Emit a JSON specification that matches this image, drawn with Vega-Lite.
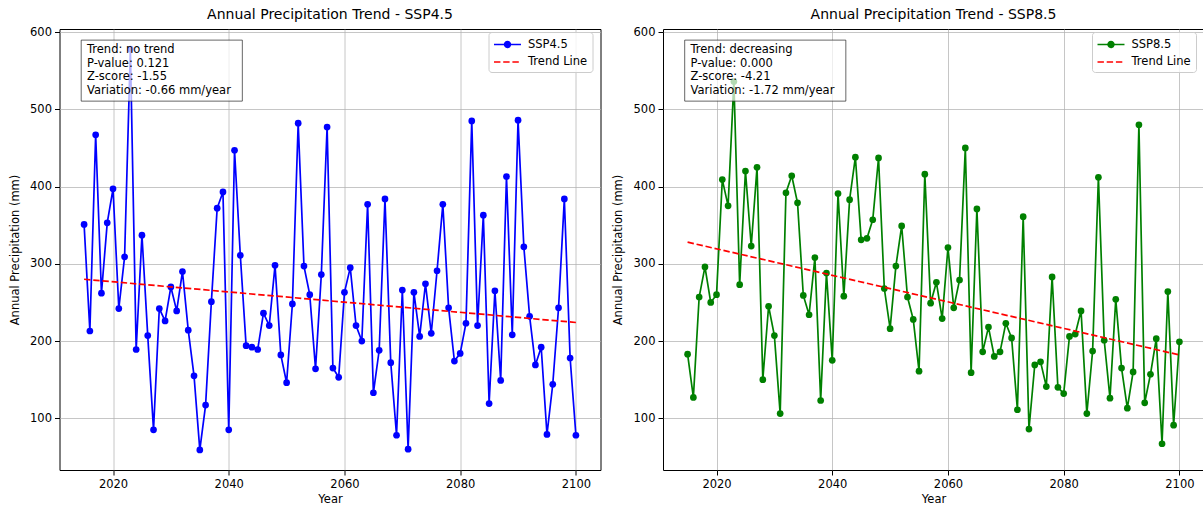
{
  "$schema": "https://vega.github.io/schema/vega-lite/v6.json",
  "background": "white",
  "padding": {"left": 8.5, "top": 7, "right": 0, "bottom": 0},
  "spacing": 10.5,
  "config": {
    "font": "DejaVu Sans",
    "view": {"stroke": "black", "strokeWidth": 1},
    "axis": {
      "labelFont": "DejaVu Sans", "labelFontSize": 11.5, "labelColor": "black",
      "titleFont": "DejaVu Sans", "titleFontSize": 11.5, "titleFontWeight": "normal", "titleColor": "black",
      "tickColor": "black", "tickSize": 5, "tickWidth": 1, "labelPadding": 3,
      "domain": false, "gridColor": "#b0b0b0", "gridOpacity": 0.8, "gridWidth": 0.9
    },
    "title": {"font": "DejaVu Sans", "fontSize": 14, "fontWeight": "normal", "color": "black", "offset": 4},
    "legend": {
      "orient": "none", "legendX": 429, "legendY": 3,
      "fillColor": "rgba(255,255,255,0.8)", "strokeColor": "#cccccc", "cornerRadius": 3,
      "padding": 4.5, "symbolSize": 182, "symbolStrokeWidth": 1.7,
      "labelFont": "DejaVu Sans", "labelFontSize": 11.5, "labelColor": "black",
      "labelOffset": 12.5, "rowPadding": 2.5, "symbolOffset": 6.5
    }
  },
  "datasets": {
    "ssp45": [
      {"year":2015,"precip":351,"series":"SSP4.5"},{"year":2016,"precip":213,"series":"SSP4.5"},{"year":2017,"precip":467,"series":"SSP4.5"},{"year":2018,"precip":262,"series":"SSP4.5"},{"year":2019,"precip":353,"series":"SSP4.5"},
      {"year":2020,"precip":397,"series":"SSP4.5"},{"year":2021,"precip":242,"series":"SSP4.5"},{"year":2022,"precip":309,"series":"SSP4.5"},{"year":2023,"precip":578,"series":"SSP4.5"},{"year":2024,"precip":189,"series":"SSP4.5"},
      {"year":2025,"precip":337,"series":"SSP4.5"},{"year":2026,"precip":207,"series":"SSP4.5"},{"year":2027,"precip":85,"series":"SSP4.5"},{"year":2028,"precip":242,"series":"SSP4.5"},{"year":2029,"precip":226,"series":"SSP4.5"},
      {"year":2030,"precip":270,"series":"SSP4.5"},{"year":2031,"precip":239,"series":"SSP4.5"},{"year":2032,"precip":290,"series":"SSP4.5"},{"year":2033,"precip":214,"series":"SSP4.5"},{"year":2034,"precip":155,"series":"SSP4.5"},
      {"year":2035,"precip":59,"series":"SSP4.5"},{"year":2036,"precip":117,"series":"SSP4.5"},{"year":2037,"precip":251,"series":"SSP4.5"},{"year":2038,"precip":372,"series":"SSP4.5"},{"year":2039,"precip":393,"series":"SSP4.5"},
      {"year":2040,"precip":85,"series":"SSP4.5"},{"year":2041,"precip":447,"series":"SSP4.5"},{"year":2042,"precip":311,"series":"SSP4.5"},{"year":2043,"precip":194,"series":"SSP4.5"},{"year":2044,"precip":192,"series":"SSP4.5"},
      {"year":2045,"precip":189,"series":"SSP4.5"},{"year":2046,"precip":236,"series":"SSP4.5"},{"year":2047,"precip":220,"series":"SSP4.5"},{"year":2048,"precip":298,"series":"SSP4.5"},{"year":2049,"precip":182,"series":"SSP4.5"},
      {"year":2050,"precip":146,"series":"SSP4.5"},{"year":2051,"precip":248,"series":"SSP4.5"},{"year":2052,"precip":482,"series":"SSP4.5"},{"year":2053,"precip":297,"series":"SSP4.5"},{"year":2054,"precip":260,"series":"SSP4.5"},
      {"year":2055,"precip":164,"series":"SSP4.5"},{"year":2056,"precip":286,"series":"SSP4.5"},{"year":2057,"precip":477,"series":"SSP4.5"},{"year":2058,"precip":165,"series":"SSP4.5"},{"year":2059,"precip":153,"series":"SSP4.5"},
      {"year":2060,"precip":263,"series":"SSP4.5"},{"year":2061,"precip":295,"series":"SSP4.5"},{"year":2062,"precip":220,"series":"SSP4.5"},{"year":2063,"precip":200,"series":"SSP4.5"},{"year":2064,"precip":377,"series":"SSP4.5"},
      {"year":2065,"precip":133,"series":"SSP4.5"},{"year":2066,"precip":188,"series":"SSP4.5"},{"year":2067,"precip":384,"series":"SSP4.5"},{"year":2068,"precip":172,"series":"SSP4.5"},{"year":2069,"precip":78,"series":"SSP4.5"},
      {"year":2070,"precip":266,"series":"SSP4.5"},{"year":2071,"precip":60,"series":"SSP4.5"},{"year":2072,"precip":263,"series":"SSP4.5"},{"year":2073,"precip":206,"series":"SSP4.5"},{"year":2074,"precip":274,"series":"SSP4.5"},
      {"year":2075,"precip":210,"series":"SSP4.5"},{"year":2076,"precip":291,"series":"SSP4.5"},{"year":2077,"precip":377,"series":"SSP4.5"},{"year":2078,"precip":243,"series":"SSP4.5"},{"year":2079,"precip":174,"series":"SSP4.5"},
      {"year":2080,"precip":184,"series":"SSP4.5"},{"year":2081,"precip":223,"series":"SSP4.5"},{"year":2082,"precip":485,"series":"SSP4.5"},{"year":2083,"precip":220,"series":"SSP4.5"},{"year":2084,"precip":363,"series":"SSP4.5"},
      {"year":2085,"precip":119,"series":"SSP4.5"},{"year":2086,"precip":265,"series":"SSP4.5"},{"year":2087,"precip":149,"series":"SSP4.5"},{"year":2088,"precip":413,"series":"SSP4.5"},{"year":2089,"precip":208,"series":"SSP4.5"},
      {"year":2090,"precip":486,"series":"SSP4.5"},{"year":2091,"precip":322,"series":"SSP4.5"},{"year":2092,"precip":232,"series":"SSP4.5"},{"year":2093,"precip":169,"series":"SSP4.5"},{"year":2094,"precip":192,"series":"SSP4.5"},
      {"year":2095,"precip":79,"series":"SSP4.5"},{"year":2096,"precip":144,"series":"SSP4.5"},{"year":2097,"precip":243,"series":"SSP4.5"},{"year":2098,"precip":384,"series":"SSP4.5"},{"year":2099,"precip":178,"series":"SSP4.5"},
      {"year":2100,"precip":78,"series":"SSP4.5"}
    ],
    "ssp85": [
      {"year":2015,"precip":183,"series":"SSP8.5"},{"year":2016,"precip":127,"series":"SSP8.5"},{"year":2017,"precip":257,"series":"SSP8.5"},{"year":2018,"precip":296,"series":"SSP8.5"},{"year":2019,"precip":250,"series":"SSP8.5"},
      {"year":2020,"precip":260,"series":"SSP8.5"},{"year":2021,"precip":409,"series":"SSP8.5"},{"year":2022,"precip":375,"series":"SSP8.5"},{"year":2023,"precip":536,"series":"SSP8.5"},{"year":2024,"precip":273,"series":"SSP8.5"},
      {"year":2025,"precip":420,"series":"SSP8.5"},{"year":2026,"precip":323,"series":"SSP8.5"},{"year":2027,"precip":425,"series":"SSP8.5"},{"year":2028,"precip":150,"series":"SSP8.5"},{"year":2029,"precip":245,"series":"SSP8.5"},
      {"year":2030,"precip":207,"series":"SSP8.5"},{"year":2031,"precip":106,"series":"SSP8.5"},{"year":2032,"precip":392,"series":"SSP8.5"},{"year":2033,"precip":414,"series":"SSP8.5"},{"year":2034,"precip":379,"series":"SSP8.5"},
      {"year":2035,"precip":259,"series":"SSP8.5"},{"year":2036,"precip":234,"series":"SSP8.5"},{"year":2037,"precip":308,"series":"SSP8.5"},{"year":2038,"precip":123,"series":"SSP8.5"},{"year":2039,"precip":288,"series":"SSP8.5"},
      {"year":2040,"precip":175,"series":"SSP8.5"},{"year":2041,"precip":391,"series":"SSP8.5"},{"year":2042,"precip":258,"series":"SSP8.5"},{"year":2043,"precip":383,"series":"SSP8.5"},{"year":2044,"precip":438,"series":"SSP8.5"},
      {"year":2045,"precip":331,"series":"SSP8.5"},{"year":2046,"precip":333,"series":"SSP8.5"},{"year":2047,"precip":357,"series":"SSP8.5"},{"year":2048,"precip":437,"series":"SSP8.5"},{"year":2049,"precip":268,"series":"SSP8.5"},
      {"year":2050,"precip":216,"series":"SSP8.5"},{"year":2051,"precip":297,"series":"SSP8.5"},{"year":2052,"precip":349,"series":"SSP8.5"},{"year":2053,"precip":257,"series":"SSP8.5"},{"year":2054,"precip":228,"series":"SSP8.5"},
      {"year":2055,"precip":161,"series":"SSP8.5"},{"year":2056,"precip":416,"series":"SSP8.5"},{"year":2057,"precip":249,"series":"SSP8.5"},{"year":2058,"precip":276,"series":"SSP8.5"},{"year":2059,"precip":229,"series":"SSP8.5"},
      {"year":2060,"precip":321,"series":"SSP8.5"},{"year":2061,"precip":243,"series":"SSP8.5"},{"year":2062,"precip":279,"series":"SSP8.5"},{"year":2063,"precip":450,"series":"SSP8.5"},{"year":2064,"precip":159,"series":"SSP8.5"},
      {"year":2065,"precip":371,"series":"SSP8.5"},{"year":2066,"precip":186,"series":"SSP8.5"},{"year":2067,"precip":218,"series":"SSP8.5"},{"year":2068,"precip":180,"series":"SSP8.5"},{"year":2069,"precip":186,"series":"SSP8.5"},
      {"year":2070,"precip":223,"series":"SSP8.5"},{"year":2071,"precip":204,"series":"SSP8.5"},{"year":2072,"precip":111,"series":"SSP8.5"},{"year":2073,"precip":361,"series":"SSP8.5"},{"year":2074,"precip":86,"series":"SSP8.5"},
      {"year":2075,"precip":169,"series":"SSP8.5"},{"year":2076,"precip":173,"series":"SSP8.5"},{"year":2077,"precip":141,"series":"SSP8.5"},{"year":2078,"precip":283,"series":"SSP8.5"},{"year":2079,"precip":140,"series":"SSP8.5"},
      {"year":2080,"precip":132,"series":"SSP8.5"},{"year":2081,"precip":206,"series":"SSP8.5"},{"year":2082,"precip":209,"series":"SSP8.5"},{"year":2083,"precip":239,"series":"SSP8.5"},{"year":2084,"precip":106,"series":"SSP8.5"},
      {"year":2085,"precip":187,"series":"SSP8.5"},{"year":2086,"precip":412,"series":"SSP8.5"},{"year":2087,"precip":201,"series":"SSP8.5"},{"year":2088,"precip":126,"series":"SSP8.5"},{"year":2089,"precip":254,"series":"SSP8.5"},
      {"year":2090,"precip":165,"series":"SSP8.5"},{"year":2091,"precip":113,"series":"SSP8.5"},{"year":2092,"precip":160,"series":"SSP8.5"},{"year":2093,"precip":480,"series":"SSP8.5"},{"year":2094,"precip":120,"series":"SSP8.5"},
      {"year":2095,"precip":157,"series":"SSP8.5"},{"year":2096,"precip":203,"series":"SSP8.5"},{"year":2097,"precip":67,"series":"SSP8.5"},{"year":2098,"precip":264,"series":"SSP8.5"},{"year":2099,"precip":91,"series":"SSP8.5"},
      {"year":2100,"precip":199,"series":"SSP8.5"}
    ],
    "trend45": [
      {"year":2015,"precip":280,"series":"Trend Line"},{"year":2100,"precip":224,"series":"Trend Line"}
    ],
    "trend85": [
      {"year":2015,"precip":328,"series":"Trend Line"},{"year":2100,"precip":182,"series":"Trend Line"}
    ],
    "stats45": [
      {"label":"Trend: no trend\nP-value: 0.121\nZ-score: -1.55\nVariation: -0.66 mm/year"}
    ],
    "stats85": [
      {"label":"Trend: decreasing\nP-value: 0.000\nZ-score: -4.21\nVariation: -1.72 mm/year"}
    ]
  },
  "resolve": {"scale": {"color": "independent"}, "legend": {"color": "independent"}},
  "hconcat": [
    {
      "width": 541, "height": 441,
      "title": "Annual Precipitation Trend - SSP4.5",
      "layer": [
        {"data": {"name": "ssp45"}, "mark": {"type": "line", "strokeWidth": 1.7},
         "encoding": {
           "x": {"field": "year", "type": "quantitative", "scale": {"domain": [2010.75, 2104.25], "nice": false, "zero": false},
                 "axis": {"values": [2020, 2040, 2060, 2080, 2100], "format": "d", "title": "Year", "titlePadding": 4}},
           "y": {"field": "precip", "type": "quantitative", "scale": {"domain": [33, 604], "nice": false, "zero": false},
                 "axis": {"values": [100, 200, 300, 400, 500, 600], "title": "Annual Precipitation (mm)", "titlePadding": 9.25}},
           "color": {"field": "series", "type": "nominal", "scale": {"domain": ["SSP4.5", "Trend Line"], "range": ["#0000ff", "#ff0000"]},
           "legend": {"title": null, "encode": {"symbols": {"update": {
             "shape": {"signal": "datum.value === 'Trend Line' ? 'M-2,0H2' : 'M-2,0H2M0.42,0A0.42,0.42,0,1,1,-0.42,0A0.42,0.42,0,1,1,0.42,0Z'"},
             "fill": {"signal": "datum.value === 'Trend Line' ? 'transparent' : '#0000ff'"},
             "strokeDash": {"signal": "datum.value === 'Trend Line' ? [6.4, 2.8] : [1, 0]"},
             "strokeWidth": {"value": 1.7}
           }}}}}}},
        {"data": {"name": "ssp45"}, "mark": {"type": "point", "filled": true, "size": 45, "color": "#0000ff", "opacity": 1},
         "encoding": {"x": {"field": "year", "type": "quantitative"}, "y": {"field": "precip", "type": "quantitative"}}},
        {"data": {"name": "trend45"}, "mark": {"type": "line", "strokeWidth": 1.7, "strokeDash": [6.4, 2.8]},
         "encoding": {"x": {"field": "year", "type": "quantitative"}, "y": {"field": "precip", "type": "quantitative"}, "color": {"field": "series", "type": "nominal"}}},
        {"data": {"name": "stats45"}, "mark": {"type": "rect", "fill": "white", "fillOpacity": 0.7, "stroke": "black", "strokeOpacity": 0.6, "strokeWidth": 1},
         "encoding": {"x": {"datum": 2014.5, "type": "quantitative"}, "x2": {"datum": 2042.35}, "y": {"datum": 589.6, "type": "quantitative"}, "y2": {"datum": 510.6}}},
        {"data": {"name": "stats45"}, "mark": {"type": "text", "align": "left", "baseline": "middle", "lineBreak": "\n", "font": "DejaVu Sans", "fontSize": 11.5, "lineHeight": 13.4, "color": "black"},
         "encoding": {"x": {"datum": 2015.5, "type": "quantitative"}, "y": {"datum": 576.3, "type": "quantitative"}, "text": {"field": "label", "type": "nominal"}}}
      ]
    },
    {
      "width": 541, "height": 441,
      "title": "Annual Precipitation Trend - SSP8.5",
      "layer": [
        {"data": {"name": "ssp85"}, "mark": {"type": "line", "strokeWidth": 1.7},
         "encoding": {
           "x": {"field": "year", "type": "quantitative", "scale": {"domain": [2010.75, 2104.25], "nice": false, "zero": false},
                 "axis": {"values": [2020, 2040, 2060, 2080, 2100], "format": "d", "title": "Year", "titlePadding": 4}},
           "y": {"field": "precip", "type": "quantitative", "scale": {"domain": [33, 604], "nice": false, "zero": false},
                 "axis": {"values": [100, 200, 300, 400, 500, 600], "title": "Annual Precipitation (mm)", "titlePadding": 9.25}},
           "color": {"field": "series", "type": "nominal", "scale": {"domain": ["SSP8.5", "Trend Line"], "range": ["#008000", "#ff0000"]},
           "legend": {"title": null, "encode": {"symbols": {"update": {
             "shape": {"signal": "datum.value === 'Trend Line' ? 'M-2,0H2' : 'M-2,0H2M0.42,0A0.42,0.42,0,1,1,-0.42,0A0.42,0.42,0,1,1,0.42,0Z'"},
             "fill": {"signal": "datum.value === 'Trend Line' ? 'transparent' : '#008000'"},
             "strokeDash": {"signal": "datum.value === 'Trend Line' ? [6.4, 2.8] : [1, 0]"},
             "strokeWidth": {"value": 1.7}
           }}}}}}},
        {"data": {"name": "ssp85"}, "mark": {"type": "point", "filled": true, "size": 45, "color": "#008000", "opacity": 1},
         "encoding": {"x": {"field": "year", "type": "quantitative"}, "y": {"field": "precip", "type": "quantitative"}}},
        {"data": {"name": "trend85"}, "mark": {"type": "line", "strokeWidth": 1.7, "strokeDash": [6.4, 2.8]},
         "encoding": {"x": {"field": "year", "type": "quantitative"}, "y": {"field": "precip", "type": "quantitative"}, "color": {"field": "series", "type": "nominal"}}},
        {"data": {"name": "stats85"}, "mark": {"type": "rect", "fill": "white", "fillOpacity": 0.7, "stroke": "black", "strokeOpacity": 0.6, "strokeWidth": 1},
         "encoding": {"x": {"datum": 2014.5, "type": "quantitative"}, "x2": {"datum": 2042.35}, "y": {"datum": 589.6, "type": "quantitative"}, "y2": {"datum": 510.6}}},
        {"data": {"name": "stats85"}, "mark": {"type": "text", "align": "left", "baseline": "middle", "lineBreak": "\n", "font": "DejaVu Sans", "fontSize": 11.5, "lineHeight": 13.4, "color": "black"},
         "encoding": {"x": {"datum": 2015.5, "type": "quantitative"}, "y": {"datum": 576.3, "type": "quantitative"}, "text": {"field": "label", "type": "nominal"}}}
      ]
    }
  ]
}
